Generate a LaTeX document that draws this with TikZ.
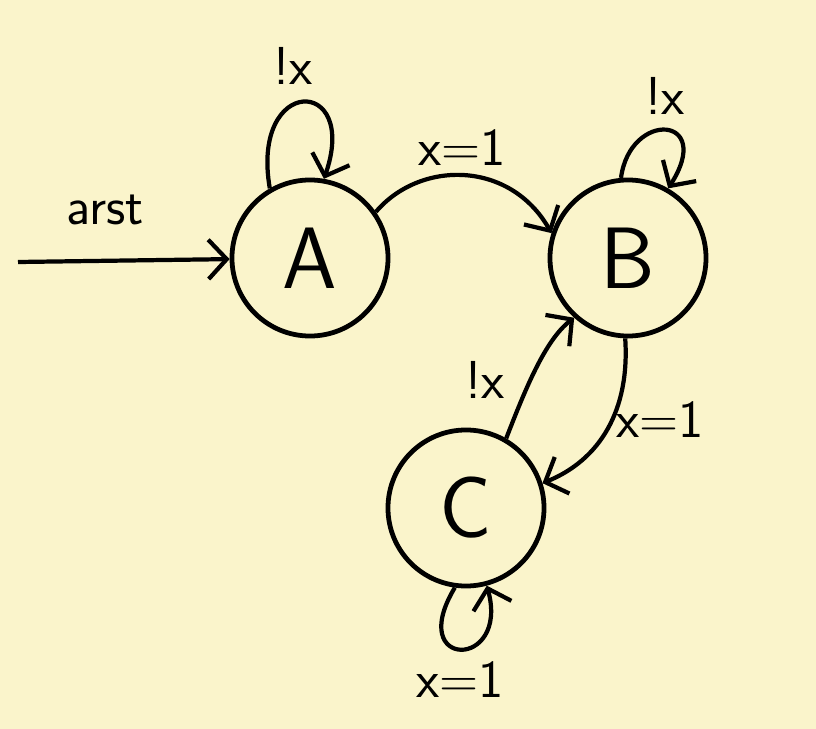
\documentclass[tikz,border=0pt]{standalone}
\usetikzlibrary{arrows.meta}
\definecolor{paper}{HTML}{FAF4CB}
\tikzset{
  state/.style={circle,draw,line width=3.4pt,minimum size=3.9cm,inner sep=0pt,
    font=\fontsize{62}{62}\selectfont\sffamily},
  edge/.style={line width=3pt,-{Straight Barb[length=13pt,width=28pt]}},
  lbl/.style={font=\fontsize{38}{42}\selectfont\sffamily}
}
\begin{document}
\begin{tikzpicture}[x=0.025cm,y=-0.025cm]
    \fill [paper] (0,0) rectangle (816,729);
    \useasboundingbox (0,0) rectangle (816,729);
    % states
    \node [state] (A) at (310,258) {A};
    \node [state] (B) at (628,258) {B};
    \node [state] (C) at (466,508) {C};
    \coordinate (start) at (18,262);
    % transitions
    \draw [edge] (start) -- (A);
    \node [lbl] (rst) at (105,210) {arst};
    \draw [edge] (A.120) .. controls (250,75) and (360,75) .. (A.80);
    \node [lbl] (aa) at (293,66) {!x};
    \draw [edge] (A.35) .. controls (420,160) and (510,160) .. (B.162);
    \node [lbl] (ab) at (462,148) {x=1};
    \draw [edge] (B.95) .. controls (630,110) and (715,115) .. (B.60);
    \node [lbl] (bb) at (665,96) {!x};
    \draw [edge] (C.60) .. controls (525,390) and (545,340) .. (B.228);
    \node [lbl] (cb) at (485,380) {!x};
    \draw [edge] (B.268) .. controls (630,410) and (600,460) .. (C.18);
    \node [lbl] (bc) at (660,420) {x=1};
    \draw [edge] (C.262) .. controls (405,670) and (510,670) .. (C.285);
    \node [lbl] (cc) at (460,680) {x=1};
\end{tikzpicture}
\end{document}
